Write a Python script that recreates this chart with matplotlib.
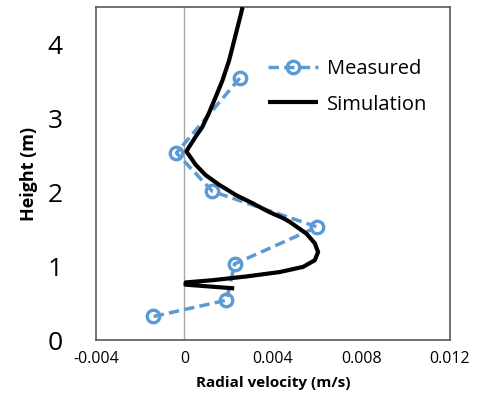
import matplotlib
matplotlib.use("Agg")
import matplotlib.pyplot as plt

plt.rcParams['font.family'] = ['Open Sans', 'DejaVu Sans']

meas_x = [0.0025, -0.00036, 0.00127, 0.0060, 0.00227, 0.0019, -0.0014]
meas_y = [3.54, 2.53, 2.01, 1.53, 1.03, 0.54, 0.32]

sim_x = [0.00263, 0.00248, 0.00225, 0.00202, 0.00172, 0.00142, 0.00111, 0.00081,
         0.00051, 0.00021, 0.00009, 0.00021, 0.00051, 0.00096, 0.00157, 0.00233,
         0.00308, 0.00384, 0.00445, 0.00475, 0.00551, 0.00589, 0.00604, 0.00589,
         0.00536, 0.00430, 0.00278, 0.00126, 0.00006, 0.00005, 0.00225]
sim_y = [4.50, 4.32, 4.05, 3.78, 3.51, 3.29, 3.07, 2.88,
         2.75, 2.61, 2.55, 2.50, 2.37, 2.23, 2.10, 1.96,
         1.85, 1.73, 1.65, 1.60, 1.44, 1.31, 1.19, 1.08,
         0.99, 0.92, 0.86, 0.81, 0.78, 0.75, 0.70]

xticks = [-0.004, 0, 0.004, 0.008, 0.012]
xlabels = ['-0.004', '0', '0.004', '0.008', '0.012']
yticks = [0, 1, 2, 3, 4]

fig = plt.figure(figsize=(4.94, 3.96), dpi=100)
ax = fig.add_axes([0.194, 0.141, 0.717, 0.841])

blue = '#5B9BD5'
ax.axvline(0, color='#A6A6A6', lw=1.0, zorder=1)
ax.plot(meas_x, meas_y, color=blue, lw=2.5, ls=(0, (3, 1.5)), marker='o', ms=9,
        mfc='none', mec=blue, mew=2.4, label='Measured', zorder=3)
ax.plot(sim_x, sim_y, color='black', lw=3.0, label='Simulation', zorder=4,
        solid_joinstyle='round', solid_capstyle='butt')

ax.set_xlim(-0.004, 0.012)
ax.set_ylim(0, 4.5)
ax.set_xticks(xticks)
ax.set_xticklabels(xlabels, fontsize=11.5)
ax.set_yticks(yticks)
ax.set_yticklabels([str(t) for t in yticks], fontsize=19)
ax.tick_params(length=0)
ax.tick_params(axis='x', pad=8)
ax.tick_params(axis='y', pad=24)
for s in ax.spines.values():
    s.set_color('#595959')
    s.set_linewidth(1.2)

ax.set_xlabel('Radial velocity (m/s)', fontsize=11, fontweight='bold', labelpad=6)
ax.set_ylabel('Height (m)', fontsize=13, fontweight='bold', labelpad=7)

ax.legend(loc='upper left', bbox_to_anchor=(0.486, 0.843), frameon=False, fontsize=14.5,
          handlelength=2.5, handletextpad=0.45, labelspacing=0.75, borderpad=0,
          borderaxespad=0)

fig.savefig('out.png', dpi=100)
